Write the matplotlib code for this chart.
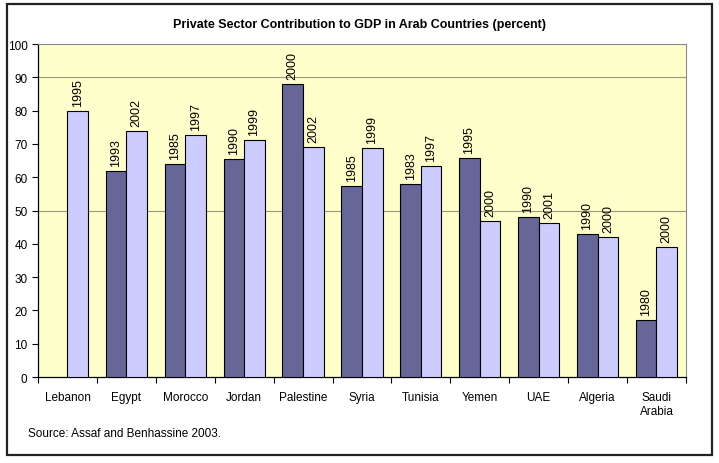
import matplotlib
matplotlib.use("Agg")
import matplotlib.pyplot as plt
import numpy as np
from matplotlib.patches import Rectangle

countries = ["Lebanon", "Egypt", "Morocco", "Jordan", "Palestine", "Syria",
             "Tunisia", "Yemen", "UAE", "Algeria", "Saudi\nArabia"]
early_vals = [np.nan, 62.0, 64.0, 65.6, 87.9, 57.3, 58.1, 65.9, 48.1, 42.8, 17.2]
early_years = ["", "1993", "1985", "1990", "2000", "1985", "1983", "1995", "1990", "1990", "1980"]
late_vals = [80.0, 74.0, 72.8, 71.2, 69.2, 68.7, 63.3, 47.0, 46.2, 42.1, 39.1]
late_years = ["1995", "2002", "1997", "1999", "2002", "1999", "1997", "2000", "2001", "2000", "2000"]
grid_levels = [50, 90]

DARK = "#666699"
LIGHT = "#ccccff"
PLOT_BG = "#ffffcc"

fig = plt.figure(figsize=(7.19, 4.64), dpi=100, facecolor="white")
ax = fig.add_axes([0.0529, 0.1853, 0.9011, 0.7177])
ax.set_facecolor(PLOT_BG)

x = np.arange(len(countries))
w = 0.35
ax.bar(x - w / 2, early_vals, w, color=DARK, edgecolor="black", lw=0.8, zorder=3)
ax.bar(x + w / 2, late_vals, w, color=LIGHT, edgecolor="black", lw=0.8, zorder=3)

for xi, v, yr in zip(x, early_vals, early_years):
    if yr and not np.isnan(v):
        ax.text(xi - w / 2, v + 1.5, yr, rotation=90, ha="center", va="bottom",
                fontsize=9, family="Liberation Sans")
for xi, v, yr in zip(x, late_vals, late_years):
    ax.text(xi + w / 2, v + 1.5, yr, rotation=90, ha="center", va="bottom",
            fontsize=9, family="Liberation Sans")

for g in grid_levels:
    ax.axhline(g, color="#999977", lw=0.8, zorder=1)

ax.set_xlim(-0.5, len(countries) - 0.5)
ax.set_ylim(0, 100)
ax.set_yticks(range(0, 101, 10))
ax.set_xticks(np.arange(len(countries) + 1) - 0.5, minor=False)
ax.set_xticklabels([])
ax.set_xticks(x, minor=True)
ax.set_xticklabels(countries, minor=True, fontsize=8.5, family="Liberation Sans")
ax.tick_params(axis="x", which="minor", length=0, pad=10)
ax.tick_params(axis="x", which="major", length=4, direction="out", color="black")
ax.tick_params(axis="y", length=4, direction="out", labelsize=8.5)
for lbl in ax.get_yticklabels():
    lbl.set_family("Liberation Sans")

for side in ("top", "right"):
    ax.spines[side].set_color("#888888")
    ax.spines[side].set_linewidth(0.8)
ax.spines["left"].set_linewidth(0.9)
ax.spines["bottom"].set_linewidth(0.9)

fig.text(0.5, 0.946, "Private Sector Contribution to GDP in Arab Countries (percent)",
         ha="center", va="center", fontsize=9, fontweight="bold", family="Liberation Sans")
fig.text(0.039, 0.064, "Source: Assaf and Benhassine 2003.", ha="left", va="center",
         fontsize=8.5, family="Liberation Sans")

# outer frame
fig.patches.append(Rectangle((0.0097, 0.017), 0.980, 0.972, transform=fig.transFigure,
                             fill=False, edgecolor="#222222", lw=1.6))

fig.savefig("out.png", dpi=100, facecolor="white")
